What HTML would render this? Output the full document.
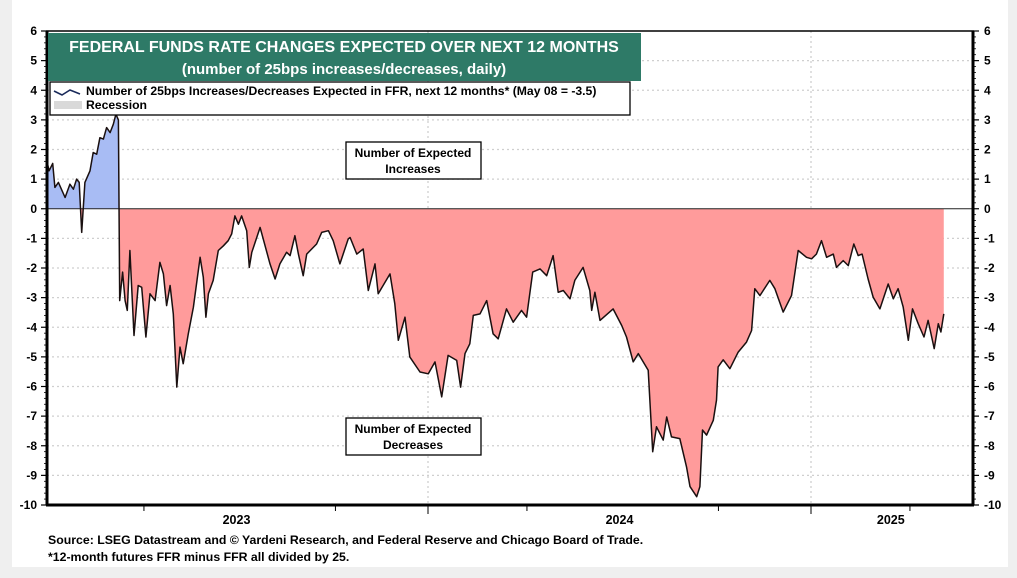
<!DOCTYPE html>
<html><head><meta charset="utf-8">
<style>
html,body{margin:0;padding:0;background:#efefef;}
body{width:1017px;height:578px;position:relative;overflow:hidden;font-family:"Liberation Sans",Arial,sans-serif;}
#panel{position:absolute;left:12px;top:0;width:996px;height:567px;background:#fff;}
svg{position:absolute;left:0;top:0;}
text{font-family:"Liberation Sans",Arial,sans-serif;font-weight:bold;}
</style></head>
<body>
<div id="panel"></div>
<svg id="chart" width="1017" height="578"></svg>
<script>
// months since Jan 2023 (x position in time)
const months = [0.07,0.13,0.24,0.31,0.42,0.63,0.78,0.89,0.99,1.07,1.15,1.25,1.41,1.51,1.62,1.72,1.83,1.93,2.04,2.14,2.22,2.30,2.34,2.43,2.51,2.58,2.66,2.79,2.92,3.03,3.16,3.29,3.45,3.60,3.71,3.81,3.92,4.02,4.13,4.23,4.33,4.49,4.65,4.86,4.96,5.04,5.12,5.27,5.43,5.59,5.74,5.85,5.95,6.06,6.16,6.32,6.40,6.48,6.74,7.05,7.21,7.36,7.57,7.68,7.83,7.94,8.09,8.20,8.51,8.67,8.88,9.03,9.24,9.50,9.56,9.77,9.97,10.13,10.34,10.44,10.81,10.96,11.07,11.28,11.43,11.75,12.01,12.22,12.43,12.63,12.90,13.02,13.16,13.31,13.42,13.63,13.84,14.04,14.20,14.46,14.67,14.93,15.09,15.28,15.51,15.72,15.92,16.08,16.24,16.45,16.60,16.86,17.07,17.13,17.23,17.39,17.80,18.07,18.22,18.43,18.59,18.90,19.04,19.16,19.37,19.48,19.63,19.89,20.10,20.21,20.42,20.52,20.60,20.73,20.94,21.04,21.09,21.25,21.46,21.72,21.98,22.14,22.24,22.40,22.71,22.87,23.13,23.39,23.60,23.86,24.02,24.17,24.33,24.49,24.70,24.80,25.01,25.17,25.34,25.48,25.60,25.79,25.95,26.16,26.42,26.58,26.73,26.89,27.05,27.18,27.36,27.54,27.67,27.86,27.99,28.07,28.16];
const values = [1.56,1.28,1.53,0.72,0.89,0.38,0.83,0.66,1.0,0.89,-0.8,0.89,1.28,1.9,1.84,2.4,2.35,2.74,2.57,2.85,3.19,3.0,-3.1,-2.14,-3.1,-3.43,-1.41,-4.28,-2.59,-2.65,-4.33,-2.87,-3.1,-1.81,-2.2,-3.27,-2.59,-3.55,-6.02,-4.67,-5.23,-4.22,-3.32,-1.64,-2.31,-3.66,-2.87,-2.42,-1.41,-1.25,-1.08,-0.85,-0.24,-0.52,-0.24,-0.74,-1.98,-1.47,-0.63,-1.86,-2.37,-1.86,-1.47,-1.58,-0.91,-1.53,-2.26,-1.53,-1.19,-0.8,-0.74,-1.08,-1.86,-1.02,-0.97,-1.53,-1.36,-2.76,-1.86,-2.87,-2.2,-3.21,-4.44,-3.66,-5.0,-5.51,-5.57,-5.17,-6.35,-4.95,-5.12,-6.02,-4.89,-4.56,-3.6,-3.55,-3.1,-4.22,-4.39,-3.38,-3.83,-3.43,-3.66,-2.14,-2.03,-2.26,-1.58,-2.82,-2.76,-3.04,-2.42,-1.98,-2.76,-3.43,-2.82,-3.77,-3.38,-3.94,-4.33,-5.17,-4.89,-5.45,-8.2,-7.36,-7.81,-7.03,-7.7,-7.76,-8.71,-9.38,-9.72,-9.38,-7.47,-7.64,-7.14,-6.46,-5.34,-5.1,-5.4,-4.84,-4.5,-4.11,-2.7,-2.93,-2.42,-2.7,-3.49,-2.93,-1.41,-1.64,-1.69,-1.53,-1.08,-1.64,-1.53,-1.98,-1.75,-1.92,-1.19,-1.58,-1.53,-2.37,-2.99,-3.38,-2.54,-3.04,-2.7,-3.32,-4.44,-3.38,-3.88,-4.33,-3.77,-4.72,-3.88,-4.16,-3.55];
const yTicks = [6,5,4,3,2,1,0,-1,-2,-3,-4,-5,-6,-7,-8,-9,-10];
const yearLabels = ["2023","2024","2025"];
const yearMid = [6,18,26.5];

const NS="http://www.w3.org/2000/svg";
const svg=document.getElementById('chart');
const L=47,R=973,T=31,B=505;
function X(m){return 45+m*(383/12);}
function Y(v){return T+(6-v)*(B-T)/16;}
function mk(tag,attrs,parent){const e=document.createElementNS(NS,tag);for(const k in attrs)e.setAttribute(k,attrs[k]);(parent||svg).appendChild(e);return e;}

// grid
yTicks.forEach(v=>{
  if(v!==0&&v!==6&&v!==-10){const g=mk('line',{x1:L,x2:R,y1:Y(v),y2:Y(v),stroke:'#cfcfcf','stroke-width':1.3,'stroke-dasharray':'2,3'});
  
  }
});
[12,24].forEach(m=>{const g=mk('line',{x1:X(m),x2:X(m),y1:T,y2:B,stroke:'#cfcfcf','stroke-width':1.3,'stroke-dasharray':'2,3'});
  
  });

// areas
let d='M'+X(months[0])+','+Y(0);
months.forEach((m,i)=>{d+='L'+X(m).toFixed(1)+','+Y(values[i]).toFixed(1);});
d+='L'+X(months[months.length-1])+','+Y(0)+'Z';
const defs=mk('defs',{});
const c1=mk('clipPath',{id:'above'},defs);mk('rect',{x:0,y:0,width:1017,height:Y(0)},c1);
const c2=mk('clipPath',{id:'below'},defs);mk('rect',{x:0,y:Y(0),width:1017,height:578},c2);
const a1=mk('path',{d:d,fill:'#a8bcf4','clip-path':'url(#above)'});


const a2=mk('path',{d:d,fill:'#ff9b9b','clip-path':'url(#below)'});


const z=mk('line',{x1:L,x2:R,y1:Y(0),y2:Y(0),stroke:'#222','stroke-width':1});


let ld='';
months.forEach((m,i)=>{ld+=(i?'L':'M')+X(m).toFixed(1)+','+Y(values[i]).toFixed(1);});
const ln=mk('path',{d:ld,fill:'none',stroke:'#1a1010','stroke-width':1.5,'stroke-linejoin':'round'});



// frame
const fr=mk('rect',{x:L,y:T,width:R-L,height:B-T,fill:'none',stroke:'#000','stroke-width':1.5});


mk('line',{x1:L-1,x2:R+1,y1:B,y2:B,stroke:'#000','stroke-width':3});
mk('line',{x1:L,x2:L,y1:T,y2:B,stroke:'#000','stroke-width':3});
mk('line',{x1:R,x2:R,y1:T,y2:B,stroke:'#000','stroke-width':3});

// y ticks
yTicks.forEach(v=>{
  const y=Y(v);
  mk('line',{x1:L-6,x2:L,y1:y,y2:y,stroke:'#000','stroke-width':1.2});
  mk('line',{x1:R,x2:R+6,y1:y,y2:y,stroke:'#000','stroke-width':1.2});
  for(let k=1;k<5;k++){const yy=y+k*(B-T)/80;if(v>-10){mk('line',{x1:L-3,x2:L,y1:yy,y2:yy,stroke:'#000','stroke-width':0.8});mk('line',{x1:R,x2:R+3,y1:yy,y2:yy,stroke:'#000','stroke-width':0.8});}}
  const t1=mk('text',{x:L-10,y:y+4,'text-anchor':'end','font-size':12,fill:'#000'});t1.textContent=v;
  
  
  const t2=mk('text',{x:R+11,y:y+4,'text-anchor':'start','font-size':12,fill:'#000'});t2.textContent=v;
  
  
});
// x ticks
[3.1,9.1,15.1,21.1,27.1].forEach(m=>mk('line',{x1:X(m),x2:X(m),y1:B,y2:B+6,stroke:'#000','stroke-width':1}));
[12,24].forEach(m=>mk('line',{x1:X(m),x2:X(m),y1:B,y2:B+9,stroke:'#000','stroke-width':1}));
yearLabels.forEach((s,i)=>{const t=mk('text',{x:X(yearMid[i]),y:524,'text-anchor':'middle','font-size':12.5,fill:'#000'});t.textContent=s;
  
  });

// title
const tb=mk('rect',{x:48,y:33,width:593,height:48,fill:'#2e7a67'});


const t1=mk('text',{x:344,y:52,'text-anchor':'middle','font-size':16,fill:'#fff'});t1.textContent='FEDERAL FUNDS RATE CHANGES EXPECTED OVER NEXT 12 MONTHS';


const t2=mk('text',{x:344,y:74,'text-anchor':'middle','font-size':15,fill:'#fff'});t2.textContent='(number of 25bps increases/decreases, daily)';


// legend
const lb=mk('rect',{x:50,y:82,width:580,height:33,fill:'#fff',stroke:'#000','stroke-width':1.3});


mk('path',{d:'M54,91 L62,95 L70,90 L80,94',fill:'none',stroke:'#1a2a5a','stroke-width':1.6});
const le1=mk('text',{x:86,y:95,'font-size':12.2,fill:'#000'});le1.textContent='Number of 25bps Increases/Decreases Expected in FFR, next 12 months* (May 08 = -3.5)';


mk('rect',{x:54,y:101,width:28,height:8,fill:'#d9d9d9'});
const le2=mk('text',{x:86,y:109,'font-size':12.2,fill:'#000'});le2.textContent='Recession';


// annotations
function box(x,y,l1,l2,name){
  const r=mk('rect',{x:x,y:y,width:135,height:37,fill:'#fff',stroke:'#000','stroke-width':1.3});
  
  
  const a=mk('text',{x:x+67,y:y+15,'text-anchor':'middle','font-size':12,fill:'#000'});a.textContent=l1;
  const b=mk('text',{x:x+67,y:y+31,'text-anchor':'middle','font-size':12,fill:'#000'});b.textContent=l2;
}
box(346,142,'Number of Expected','Increases','increases-annotation');
box(346,418,'Number of Expected','Decreases','decreases-annotation');
// footer
const f1=mk('text',{x:48,y:544,'font-size':12.3,fill:'#000'});f1.textContent='Source: LSEG Datastream and © Yardeni Research, and Federal Reserve and Chicago Board of Trade.';


const f2=mk('text',{x:48,y:561,'font-size':12.3,fill:'#000'});f2.textContent='*12-month futures FFR minus FFR all divided by 25.';


</script>
</body></html>
